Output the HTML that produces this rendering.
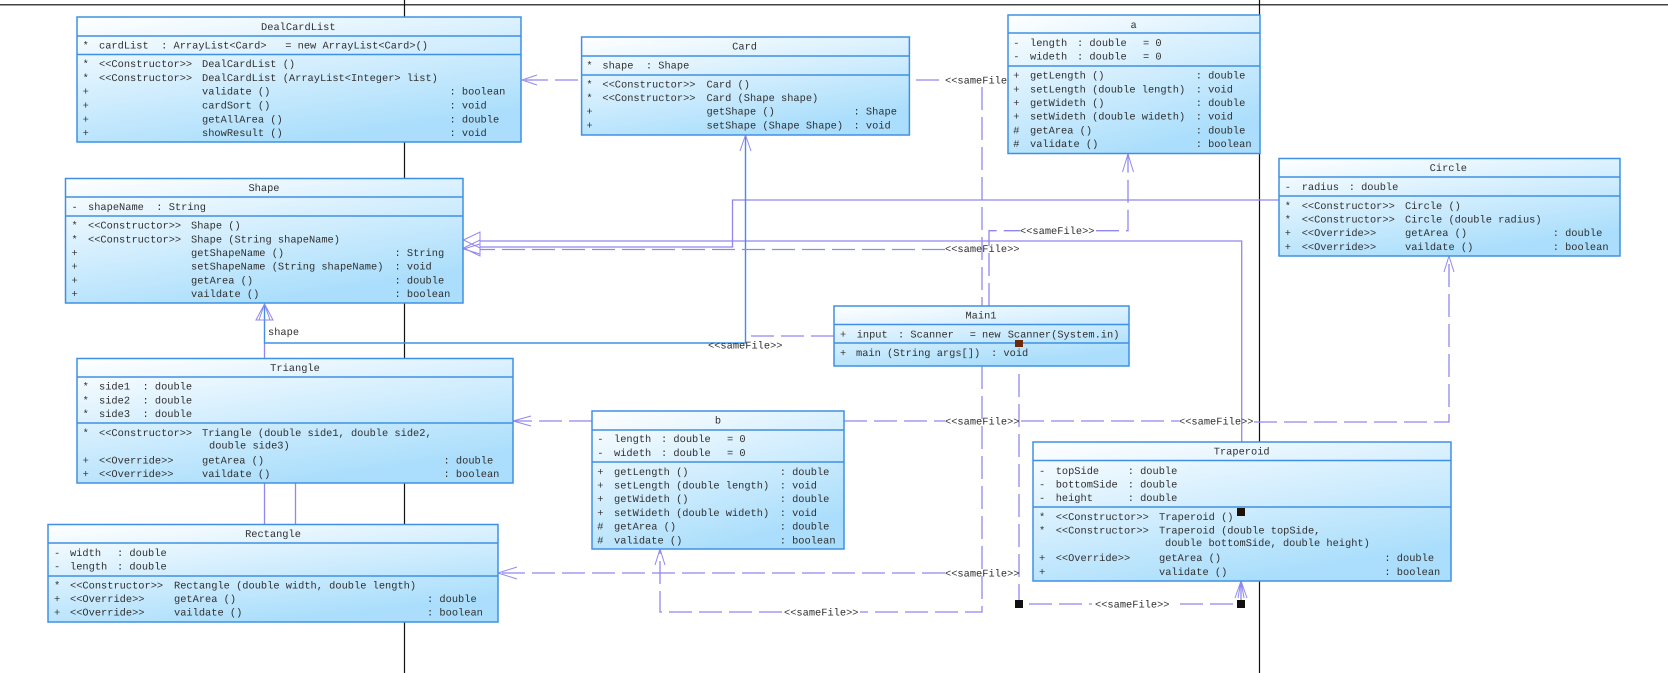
<!DOCTYPE html>
<html><head><meta charset="utf-8"><title>UML</title>
<style>
html,body{margin:0;padding:0;background:#fff;width:1668px;height:673px;overflow:hidden}
svg{display:block}
text{font-family:"Liberation Mono",monospace;font-size:10.35px;fill:#303030;white-space:pre;text-rendering:geometricPrecision}
.m{text-anchor:middle}
.box{fill:url(#g);stroke:#3f90e4;stroke-width:1.5}
.sep{stroke:#3f90e4;stroke-width:1.4}
.c{fill:none;stroke:#9088ee;stroke-width:1.3}
.d{fill:none;stroke:#9088ee;stroke-width:1.3;stroke-dasharray:23 7}
.b{fill:none;stroke:#3f90e4;stroke-width:1.4}
.a{fill:none;stroke:#9088ee;stroke-width:1}
</style></head><body>
<svg width="1668" height="673" viewBox="0 0 1668 673" xmlns="http://www.w3.org/2000/svg">
<defs><linearGradient id="g" x1="0" y1="0" x2="0.5" y2="1"><stop offset="0" stop-color="#ffffff"/><stop offset="1" stop-color="#aadefc"/></linearGradient></defs>
<rect width="1668" height="673" fill="#fff"/>
<!-- black lines -->
<path d="M0 4.7H1668" stroke="#444" stroke-width="1.5" fill="none"/>
<path d="M404.5 0V673M1259.5 0V673" stroke="#111" stroke-width="1.2" fill="none"/>
<!-- solid connectors -->
<path class="c" d="M1279 200H732.5V247H480"/>
<path class="c" d="M1241.7 442V241H480"/>
<path class="c" d="M264.5 343V358M295.5 483V524M264.5 483V524"/>
<path class="b" d="M745.5 135V343H264.5V304"/>
<!-- dashed connectors -->
<path class="d" d="M578 80H522"/>
<path class="d" d="M916 80H940"/>
<path class="d" d="M982 87V306"/>
<path class="d" d="M982 366V612H860"/>
<path class="d" d="M782 612H660V549"/>
<path class="d" d="M989 306V230.7H1020"/>
<path class="d" d="M1096 230.7H1128V154"/>
<path class="d" d="M945 249.5H480"/>
<path class="d" d="M834 336H750"/>
<path class="d" d="M592 421H513"/>
<path class="d" d="M844 421H945"/>
<path class="d" d="M1021 421H1179"/>
<path class="d" d="M1254 422H1449V256"/>
<path class="d" d="M945 573H498"/>
<path class="d" d="M1019 374V600"/>
<path class="d" d="M1029 604H1092"/>
<path class="d" d="M1180 604H1236"/>
<path class="c" d="M1241 600V581"/>
<!-- arrowheads -->
<path class="a" d="M463.5 240L480 232V248ZM463.5 248L480 240V256ZM480 244L463.5 249L480 254"/>
<path class="a" d="M264.5 304L256 320H273ZM264.5 304L259 320M264.5 304L270 320"/>
<path class="a" d="M537 75L522 80L537 85"/>
<path class="a" d="M740 151L745.5 135L751 151"/>
<path class="a" d="M1122.5 172L1128 154L1133.5 172"/>
<path class="a" d="M1444 272L1449 256L1454 272"/>
<path class="a" d="M531 416L513 421L531 426"/>
<path class="a" d="M517 567L498 573L517 579"/>
<path class="a" d="M655 565L660 549L665 565"/>
<path class="a" d="M1235 598L1241 581L1247 598M1238 598L1241 581L1244 598"/>
<!-- labels -->
<text x="945" y="83.5">&lt;&lt;sameFile&gt;&gt;</text>
<text x="945" y="252">&lt;&lt;sameFile&gt;&gt;</text>
<text x="1020" y="234">&lt;&lt;sameFile&gt;&gt;</text>
<text x="708" y="348.5">&lt;&lt;sameFile&gt;&gt;</text>
<text x="945" y="424.5">&lt;&lt;sameFile&gt;&gt;</text>
<text x="1179" y="424.5">&lt;&lt;sameFile&gt;&gt;</text>
<text x="945" y="576.5">&lt;&lt;sameFile&gt;&gt;</text>
<text x="784" y="615.5">&lt;&lt;sameFile&gt;&gt;</text>
<text x="1095" y="607.5">&lt;&lt;sameFile&gt;&gt;</text>
<text x="268" y="335">shape</text>

<!-- DealCardList -->
<rect class="box" x="77" y="17" width="444" height="125"/>
<path class="sep" d="M77 36H521M77 54.5H521"/>
<text class="m" x="298.3" y="30">DealCardList</text>
<text y="48.5"><tspan x="82.6">*</tspan><tspan x="99">cardList  : ArrayList&lt;Card&gt;   = new ArrayList&lt;Card&gt;()</tspan></text>
<text y="67"><tspan x="82.6">*</tspan><tspan x="99">&lt;&lt;Constructor&gt;&gt;</tspan><tspan x="202">DealCardList ()</tspan></text>
<text y="81"><tspan x="82.6">*</tspan><tspan x="99">&lt;&lt;Constructor&gt;&gt;</tspan><tspan x="202">DealCardList (ArrayList&lt;Integer&gt; list)</tspan></text>
<text y="94.5"><tspan x="82.6">+</tspan><tspan x="202">validate ()</tspan><tspan x="449.5">: boolean</tspan></text>
<text y="108.5"><tspan x="82.6">+</tspan><tspan x="202">cardSort ()</tspan><tspan x="449.5">: void</tspan></text>
<text y="122.5"><tspan x="82.6">+</tspan><tspan x="202">getAllArea ()</tspan><tspan x="449.5">: double</tspan></text>
<text y="136"><tspan x="82.6">+</tspan><tspan x="202">showResult ()</tspan><tspan x="449.5">: void</tspan></text>

<!-- Shape -->
<rect class="box" x="65.5" y="178.5" width="397.5" height="124.5"/>
<path class="sep" d="M65.5 197H463M65.5 216H463"/>
<text class="m" x="264" y="191">Shape</text>
<text y="210"><tspan x="71.5">-</tspan><tspan x="88">shapeName  : String</tspan></text>
<text y="228.5"><tspan x="71.5">*</tspan><tspan x="88">&lt;&lt;Constructor&gt;&gt;</tspan><tspan x="191">Shape ()</tspan></text>
<text y="242.5"><tspan x="71.5">*</tspan><tspan x="88">&lt;&lt;Constructor&gt;&gt;</tspan><tspan x="191">Shape (String shapeName)</tspan></text>
<text y="256"><tspan x="71.5">+</tspan><tspan x="191">getShapeName ()</tspan><tspan x="394.5">: String</tspan></text>
<text y="269.5"><tspan x="71.5">+</tspan><tspan x="191">setShapeName (String shapeName)</tspan><tspan x="394.5">: void</tspan></text>
<text y="283.5"><tspan x="71.5">+</tspan><tspan x="191">getArea ()</tspan><tspan x="394.5">: double</tspan></text>
<text y="297"><tspan x="71.5">+</tspan><tspan x="191">vaildate ()</tspan><tspan x="394.5">: boolean</tspan></text>

<!-- Triangle -->
<rect class="box" x="77" y="358.5" width="436" height="124.5"/>
<path class="sep" d="M77 377H513M77 423H513"/>
<text class="m" x="295" y="371">Triangle</text>
<text y="389.5"><tspan x="82.6">*</tspan><tspan x="99">side1  : double</tspan></text>
<text y="403.5"><tspan x="82.6">*</tspan><tspan x="99">side2  : double</tspan></text>
<text y="417"><tspan x="82.6">*</tspan><tspan x="99">side3  : double</tspan></text>
<text y="436"><tspan x="82.6">*</tspan><tspan x="99">&lt;&lt;Constructor&gt;&gt;</tspan><tspan x="202">Triangle (double side1, double side2,</tspan></text>
<text x="209" y="448.5">double side3)</text>
<text y="463.5"><tspan x="82.6">+</tspan><tspan x="99">&lt;&lt;Override&gt;&gt;</tspan><tspan x="202">getArea ()</tspan><tspan x="443.5">: double</tspan></text>
<text y="477"><tspan x="82.6">+</tspan><tspan x="99">&lt;&lt;Override&gt;&gt;</tspan><tspan x="202">vaildate ()</tspan><tspan x="443.5">: boolean</tspan></text>

<!-- Rectangle -->
<rect class="box" x="48" y="524.5" width="450" height="97.5"/>
<path class="sep" d="M48 543H498M48 576H498"/>
<text class="m" x="273" y="537">Rectangle</text>
<text y="556"><tspan x="54">-</tspan><tspan x="70">width</tspan><tspan x="117">: double</tspan></text>
<text y="569.5"><tspan x="54">-</tspan><tspan x="70">length</tspan><tspan x="117">: double</tspan></text>
<text y="588.5"><tspan x="54">*</tspan><tspan x="70">&lt;&lt;Constructor&gt;&gt;</tspan><tspan x="174">Rectangle (double width, double length)</tspan></text>
<text y="602"><tspan x="54">+</tspan><tspan x="70">&lt;&lt;Override&gt;&gt;</tspan><tspan x="174">getArea ()</tspan><tspan x="427">: double</tspan></text>
<text y="615.5"><tspan x="54">+</tspan><tspan x="70">&lt;&lt;Override&gt;&gt;</tspan><tspan x="174">vaildate ()</tspan><tspan x="427">: boolean</tspan></text>

<!-- Card -->
<rect class="box" x="581.6" y="37" width="327.8" height="98"/>
<path class="sep" d="M581.6 56H909.4M581.6 75H909.4"/>
<text class="m" x="744.6" y="49.5">Card</text>
<text y="68.5"><tspan x="586.4">*</tspan><tspan x="602.4">shape  : Shape</tspan></text>
<text y="87.5"><tspan x="586.4">*</tspan><tspan x="602.4">&lt;&lt;Constructor&gt;&gt;</tspan><tspan x="706.5">Card ()</tspan></text>
<text y="101"><tspan x="586.4">*</tspan><tspan x="602.4">&lt;&lt;Constructor&gt;&gt;</tspan><tspan x="706.5">Card (Shape shape)</tspan></text>
<text y="114.5"><tspan x="586.4">+</tspan><tspan x="706.5">getShape ()</tspan><tspan x="853.5">: Shape</tspan></text>
<text y="128.5"><tspan x="586.4">+</tspan><tspan x="706.5">setShape (Shape Shape)</tspan><tspan x="853.5">: void</tspan></text>

<!-- a -->
<rect class="box" x="1008" y="15" width="252" height="138.5"/>
<path class="sep" d="M1008 33H1260M1008 66H1260"/>
<text class="m" x="1133.6" y="28">a</text>
<text y="46"><tspan x="1013.3">-</tspan><tspan x="1030">length</tspan><tspan x="1077">: double</tspan><tspan x="1143">= 0</tspan></text>
<text y="59.5"><tspan x="1013.3">-</tspan><tspan x="1030">wideth</tspan><tspan x="1077">: double</tspan><tspan x="1143">= 0</tspan></text>
<text y="78.5"><tspan x="1013.3">+</tspan><tspan x="1030">getLength ()</tspan><tspan x="1195.7">: double</tspan></text>
<text y="92.5"><tspan x="1013.3">+</tspan><tspan x="1030">setLength (double length)</tspan><tspan x="1195.7">: void</tspan></text>
<text y="106"><tspan x="1013.3">+</tspan><tspan x="1030">getWideth ()</tspan><tspan x="1195.7">: double</tspan></text>
<text y="119.5"><tspan x="1013.3">+</tspan><tspan x="1030">setWideth (double wideth)</tspan><tspan x="1195.7">: void</tspan></text>
<text y="133.5"><tspan x="1013.3">#</tspan><tspan x="1030">getArea ()</tspan><tspan x="1195.7">: double</tspan></text>
<text y="147"><tspan x="1013.3">#</tspan><tspan x="1030">validate ()</tspan><tspan x="1195.7">: boolean</tspan></text>

<!-- Circle -->
<rect class="box" x="1279" y="158.5" width="341" height="97.5"/>
<path class="sep" d="M1279 177H1620M1279 196H1620"/>
<text class="m" x="1448.3" y="171">Circle</text>
<text y="190"><tspan x="1284.7">-</tspan><tspan x="1301.7">radius</tspan><tspan x="1348.7">: double</tspan></text>
<text y="209"><tspan x="1284.7">*</tspan><tspan x="1301.7">&lt;&lt;Constructor&gt;&gt;</tspan><tspan x="1405">Circle ()</tspan></text>
<text y="222.5"><tspan x="1284.7">*</tspan><tspan x="1301.7">&lt;&lt;Constructor&gt;&gt;</tspan><tspan x="1405">Circle (double radius)</tspan></text>
<text y="236"><tspan x="1284.7">+</tspan><tspan x="1301.7">&lt;&lt;Override&gt;&gt;</tspan><tspan x="1405">getArea ()</tspan><tspan x="1552.7">: double</tspan></text>
<text y="250"><tspan x="1284.7">+</tspan><tspan x="1301.7">&lt;&lt;Override&gt;&gt;</tspan><tspan x="1405">vaildate ()</tspan><tspan x="1552.7">: boolean</tspan></text>

<!-- Main1 -->
<rect class="box" x="834" y="306" width="295" height="60"/>
<path class="sep" d="M834 324.5H1129M834 343H1129"/>
<text class="m" x="981" y="318.5">Main1</text>
<text y="337.5"><tspan x="840">+</tspan><tspan x="856.7">input</tspan><tspan x="898">: Scanner</tspan><tspan x="969.7">=</tspan><tspan x="982">new</tspan><tspan x="1007.7">Scanner(System.in)</tspan></text>
<text y="356"><tspan x="840">+</tspan><tspan x="856">main (String args[])</tspan><tspan x="991">: void</tspan></text>

<!-- b -->
<rect class="box" x="592" y="411" width="252" height="138"/>
<path class="sep" d="M592 430H844M592 462H844"/>
<text class="m" x="718" y="423.5">b</text>
<text y="442.2"><tspan x="597.3">-</tspan><tspan x="614">length</tspan><tspan x="661">: double</tspan><tspan x="727">= 0</tspan></text>
<text y="456"><tspan x="597.3">-</tspan><tspan x="614">wideth</tspan><tspan x="661">: double</tspan><tspan x="727">= 0</tspan></text>
<text y="474.8"><tspan x="597.3">+</tspan><tspan x="614">getLength ()</tspan><tspan x="779.7">: double</tspan></text>
<text y="488.5"><tspan x="597.3">+</tspan><tspan x="614">setLength (double length)</tspan><tspan x="779.7">: void</tspan></text>
<text y="502.2"><tspan x="597.3">+</tspan><tspan x="614">getWideth ()</tspan><tspan x="779.7">: double</tspan></text>
<text y="515.8"><tspan x="597.3">+</tspan><tspan x="614">setWideth (double wideth)</tspan><tspan x="779.7">: void</tspan></text>
<text y="529.5"><tspan x="597.3">#</tspan><tspan x="614">getArea ()</tspan><tspan x="779.7">: double</tspan></text>
<text y="543.5"><tspan x="597.3">#</tspan><tspan x="614">validate ()</tspan><tspan x="779.7">: boolean</tspan></text>

<!-- Traperoid -->
<rect class="box" x="1033" y="442" width="418" height="139"/>
<path class="sep" d="M1033 460.5H1451M1033 507H1451"/>
<text class="m" x="1241.7" y="454.5">Traperoid</text>
<text y="473.8"><tspan x="1039">-</tspan><tspan x="1055.7">topSide</tspan><tspan x="1127.7">: double</tspan></text>
<text y="487.5"><tspan x="1039">-</tspan><tspan x="1055.7">bottomSide</tspan><tspan x="1127.7">: double</tspan></text>
<text y="501.2"><tspan x="1039">-</tspan><tspan x="1055.7">height</tspan><tspan x="1127.7">: double</tspan></text>
<text y="520.2"><tspan x="1039">*</tspan><tspan x="1055.7">&lt;&lt;Constructor&gt;&gt;</tspan><tspan x="1159">Traperoid ()</tspan></text>
<text y="533.5"><tspan x="1039">*</tspan><tspan x="1055.7">&lt;&lt;Constructor&gt;&gt;</tspan><tspan x="1159">Traperoid (double topSide,</tspan></text>
<text x="1165" y="546.2">double bottomSide, double height)</text>
<text y="561.2"><tspan x="1039">+</tspan><tspan x="1055.7">&lt;&lt;Override&gt;&gt;</tspan><tspan x="1159">getArea ()</tspan><tspan x="1384.4">: double</tspan></text>
<text y="574.8"><tspan x="1039">+</tspan><tspan x="1159">validate ()</tspan><tspan x="1384.4">: boolean</tspan></text>

<!-- markers -->
<rect x="1015" y="340" width="8" height="7" fill="#6b2a0c"/>
<rect x="1237" y="508" width="8" height="8" fill="#1d1006"/>
<rect x="1015" y="600" width="8" height="8" fill="#111"/>
<rect x="1237" y="600" width="8" height="8" fill="#111"/>
</svg>
</body></html>
